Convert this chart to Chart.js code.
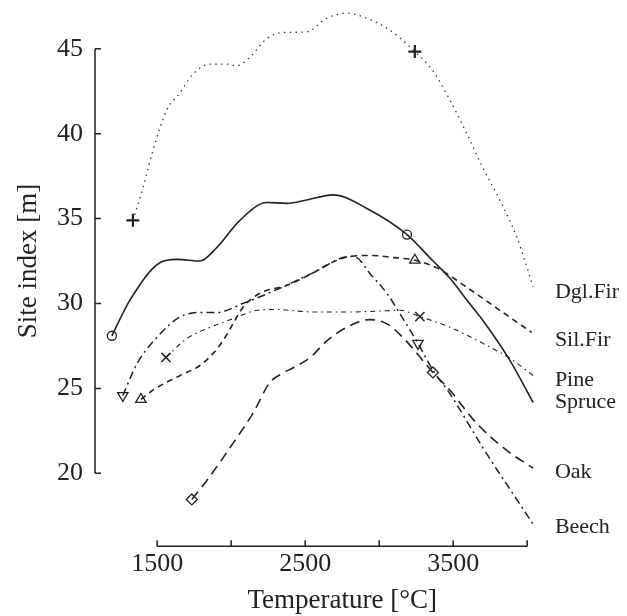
<!DOCTYPE html>
<html>
<head>
<meta charset="utf-8">
<script src="https://cdn.jsdelivr.net/npm/chart.js@4.4.1/dist/chart.umd.min.js"></script>
<style>
  html, body { margin: 0; padding: 0; background: #fff; }
  #wrap { width: 627px; height: 616px; }
</style>
</head>
<body>
<div id="wrap"><canvas id="chart" width="627" height="616"></canvas></div>
<script>
// temperature sum [°C] and site index [m]
const dglFirT = [1336, 1404, 1471, 1565, 1653, 1741, 1856, 1971, 2038, 2126, 2240, 2348, 2510, 2645, 2781, 2916, 3071, 3241, 3363, 3477, 3592, 3700, 3815, 3930, 4040];
const dglFirSI = [34.9, 36.8, 39.0, 41.4, 42.4, 43.5, 44.1, 44.1, 44.0, 44.5, 45.6, 45.96, 46.0, 46.8, 47.1, 46.8, 46.1, 44.84, 43.7, 42.0, 40.0, 38.0, 36.1, 33.9, 31.0];
const dglFirMarks = [0, 17];

const spruceT = [1194, 1316, 1518, 1633, 1789, 1903, 2059, 2241, 2376, 2511, 2687, 2917, 3188, 3364, 3477, 3592, 3701, 3883, 4040];
const spruceSI = [28.1, 30.2, 32.4, 32.6, 32.5, 33.3, 34.9, 35.95, 35.9, 36.1, 36.4, 35.6, 34.06, 32.5, 31.5, 30.2, 29.0, 26.65, 24.17];
const spruceMarks = [0, 12];

const silFirT = [1390, 1471, 1653, 1789, 1877, 1944, 2012, 2079, 2194, 2376, 2552, 2667, 2802, 2937, 3106, 3241, 3390, 3592, 3815, 4030];
const silFirSI = [24.35, 24.9, 25.75, 26.35, 27.05, 27.8, 28.8, 29.77, 30.6, 31.07, 31.8, 32.36, 32.77, 32.83, 32.7, 32.55, 32.1, 30.95, 29.6, 28.3];
const silFirMarks = [0, 15];

const beechT = [1268, 1363, 1498, 1653, 1789, 1903, 2079, 2296, 2552, 2802, 2849, 2937, 3052, 3140, 3262, 3364, 3477, 3701, 4040];
const beechSI = [24.58, 26.45, 28.0, 29.2, 29.47, 29.47, 30.0, 30.77, 31.8, 32.77, 32.7, 31.77, 30.6, 29.4, 27.65, 26.06, 24.7, 21.5, 17.0];
const beechMarks = [0, 14];

const pineT = [1559, 1701, 1856, 2012, 2174, 2296, 2552, 2802, 2990, 3140, 3275, 3478, 3701, 3883, 4040];
const pineSI = [26.82, 27.94, 28.59, 29.1, 29.6, 29.65, 29.5, 29.5, 29.55, 29.6, 29.23, 28.6, 27.65, 26.77, 25.76];
const pineMarks = [0, 10];

const oakT = [1734, 1836, 2012, 2147, 2262, 2350, 2416, 2531, 2646, 2781, 2937, 3052, 3160, 3363, 3477, 3660, 3862, 4040];
const oakSI = [18.46, 19.58, 21.76, 23.53, 25.35, 25.9, 26.2, 26.8, 27.8, 28.6, 29.05, 28.8, 28.0, 25.94, 24.9, 22.93, 21.35, 20.3];
const oakMarks = [0, 13];

const xTicks = [1500, 2000, 2500, 3000, 3500, 4000];
const xTickLabels = [1500, 2500, 3500];
const yTicks = [20, 25, 30, 35, 40, 45];

const xTitle = "Temperature [°C]";
const yTitle = "Site index [m]";

const curveLabels = ["Dgl.Fir", "Sil.Fir", "Pine", "Spruce", "Oak", "Beech"];
const curveLabelSI = [30.65, 27.82, 25.47, 24.2, 20.08, 16.84];
const curveLabelT = 4187;

const ink = "#222";
const serif = "'Liberation Serif', 'Times New Roman', serif";

function series(label, ts, vals, marks, style) {
  return Object.assign({
    label: label,
    data: ts.map((t, i) => ({ x: t, y: vals[i] })),
    borderColor: ink,
    backgroundColor: "transparent",
    pointBorderColor: ink,
    pointBackgroundColor: "transparent",
    pointBorderWidth: 1.3,
    pointRadius: ts.map((_, i) => (marks.includes(i) ? style.markSize : 0)),
    pointHoverRadius: 0,
    cubicInterpolationMode: "monotone",
    fill: false,
    clip: false,
  }, style);
}

// axis lines only over the tick range, ticks pointing inward
const rangeFrame = {
  id: "rangeFrame",
  beforeDatasetsDraw(chart) {
    const { ctx, chartArea, scales } = chart;
    const x = scales.x, y = scales.y;
    ctx.save();
    ctx.strokeStyle = ink;
    ctx.lineWidth = 1.5;
    ctx.beginPath();
    const ax = chartArea.left;
    ctx.moveTo(ax, y.getPixelForValue(yTicks[0]));
    ctx.lineTo(ax, y.getPixelForValue(yTicks[yTicks.length - 1]));
    yTicks.forEach((v) => {
      const py = y.getPixelForValue(v);
      ctx.moveTo(ax, py);
      ctx.lineTo(ax + 6, py);
    });
    const by = chartArea.bottom;
    ctx.moveTo(x.getPixelForValue(xTicks[0]), by);
    ctx.lineTo(x.getPixelForValue(xTicks[xTicks.length - 1]), by);
    xTicks.forEach((v) => {
      const px = x.getPixelForValue(v);
      ctx.moveTo(px, by);
      ctx.lineTo(px, by - 6);
    });
    ctx.stroke();

    // axis titles centred on the framed range (Chart.js ones only reserve space)
    ctx.fillStyle = ink;
    ctx.font = "27px " + serif;
    ctx.textAlign = "center";
    ctx.textBaseline = "middle";
    const midX = (x.getPixelForValue(xTicks[0]) + x.getPixelForValue(xTicks[xTicks.length - 1])) / 2;
    ctx.fillText(xTitle, midX, x.bottom - 1.5 - 13.5);
    const midY = (y.getPixelForValue(yTicks[0]) + y.getPixelForValue(yTicks[yTicks.length - 1])) / 2;
    ctx.translate(y.left + 15.5 + 13.5, midY);
    ctx.rotate(-Math.PI / 2);
    ctx.fillText(yTitle, 0, 0);
    ctx.restore();
  },
  afterDatasetsDraw(chart) {
    const { ctx, scales } = chart;
    ctx.save();
    ctx.fillStyle = ink;
    ctx.font = "22px " + serif;
    ctx.textAlign = "left";
    ctx.textBaseline = "middle";
    curveLabels.forEach((txt, i) => {
      ctx.fillText(txt, scales.x.getPixelForValue(curveLabelT), scales.y.getPixelForValue(curveLabelSI[i]));
    });
    ctx.restore();
  },
};

new Chart(document.getElementById("chart"), {
  type: "line",
  data: {
    datasets: [
      series("Dgl.Fir", dglFirT, dglFirSI, dglFirMarks, { borderDash: [1.4, 4.4], borderWidth: 1.3, borderColor: "#333", pointStyle: "cross", markSize: 6.5, pointBorderWidth: 2.2 }),
      series("Sil.Fir", silFirT, silFirSI, silFirMarks, { borderDash: [6, 4.5], borderWidth: 1.6, pointStyle: "triangle", markSize: 6 }),
      series("Pine", pineT, pineSI, pineMarks, { borderDash: [5, 4, 1.5, 4], borderWidth: 1.1, pointStyle: "crossRot", markSize: 6.5, pointBorderWidth: 1.5 }),
      series("Spruce", spruceT, spruceSI, spruceMarks, { borderWidth: 1.6, pointStyle: "circle", markSize: 4.5 }),
      series("Oak", oakT, oakSI, oakMarks, { borderDash: [10, 6], borderWidth: 1.6, pointStyle: "rectRot", markSize: 5.5 }),
      series("Beech", beechT, beechSI, beechMarks, { borderDash: [8, 4, 2, 4], borderWidth: 1.5, pointStyle: "triangle", pointRotation: 180, markSize: 6 }),
    ],
  },
  options: {
    responsive: false,
    animation: false,
    events: [],
    layout: { padding: { left: 0, top: 6, right: 85, bottom: 0 } },
    plugins: { legend: { display: false }, tooltip: { enabled: false } },
    scales: {
      x: {
        type: "linear",
        min: 1080,
        max: 4100,
        afterBuildTicks: (s) => { s.ticks = xTicks.map((v) => ({ value: v })); },
        ticks: {
          autoSkip: false,
          maxRotation: 0,
          padding: 2,
          color: ink,
          font: { family: serif, size: 26 },
          callback: (v) => (xTickLabels.includes(v) ? String(v) : ""),
        },
        grid: { display: false, drawTicks: false },
        border: { display: false },
        title: {
          display: true,
          text: xTitle,
          color: "rgba(0,0,0,0)",
          font: { family: serif, size: 27, lineHeight: 1 },
          padding: { top: 6, bottom: 1.5 },
        },
      },
      y: {
        type: "linear",
        min: 15.7,
        max: 46.25,
        afterBuildTicks: (s) => { s.ticks = yTicks.map((v) => ({ value: v })); },
        ticks: {
          padding: 12,
          color: ink,
          font: { family: serif, size: 26 },
          callback: (v) => String(v),
        },
        grid: { display: false, drawTicks: false },
        border: { display: false },
        title: {
          display: true,
          text: yTitle,
          color: "rgba(0,0,0,0)",
          font: { family: serif, size: 27, lineHeight: 1 },
          padding: { top: 15.5, bottom: 2.5 },
        },
      },
    },
  },
  plugins: [rangeFrame],
});
</script>
</body>
</html>
